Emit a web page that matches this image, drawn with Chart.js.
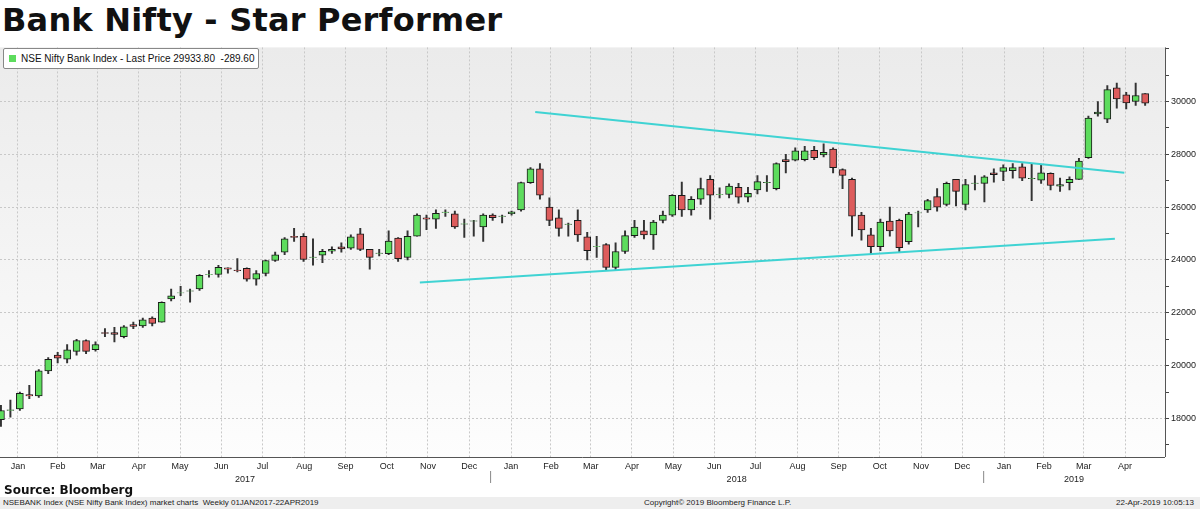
<!DOCTYPE html>
<html>
<head>
<meta charset="utf-8">
<script src="https://cdn.jsdelivr.net/npm/chart.js@4.4.0/dist/chart.umd.min.js"></script>
<style>
  body { margin: 0; width: 1200px; height: 509px; background: #fff; font-family: "Liberation Sans", Arial, sans-serif; position: relative; overflow: hidden; }
  #title { position: absolute; left: 2px; top: 1px; font: bold 32px "DejaVu Sans"; color: #111; letter-spacing: 0.2px; }
  #wrap { position: absolute; left: 0; top: 40px; width: 1200px; height: 445px; }
  #legend { position: absolute; left: 3px; top: 48px; width: 254px; height: 19px; border: 1px solid #888; border-radius: 2px; background: #fff; font-size: 10px; line-height: 19px; color: #111; }
  #legend span.sw { display: inline-block; width: 7px; height: 7px; background: #5ddc5d; margin: 0 5px 0 5px; }
  #source { position: absolute; left: 4px; top: 483px; font: bold 12px "DejaVu Sans"; color: #111; }
  #footer { position: absolute; left: 0; top: 497px; width: 1200px; height: 12px; background: #eee; font-size: 8px; line-height: 12px; color: #222; }
  #footer div { position: absolute; top: 0; }
</style>
</head>
<body>
<div id="title">Bank Nifty - Star Performer</div>
<div id="wrap"><canvas id="c"></canvas></div>
<div id="legend"><span class="sw"></span>NSE Nifty Bank Index - Last Price 29933.80&nbsp;&nbsp;-289.60</div>
<div id="source">Source: Bloomberg</div>
<div id="footer">
  <div style="left:3px">NSEBANK Index (NSE Nifty Bank Index) market charts&nbsp;&nbsp;Weekly 01JAN2017-22APR2019</div>
  <div style="left:644px">Copyright© 2019 Bloomberg Finance L.P.</div>
  <div style="left:1116px">22-Apr-2019 10:05:13</div>
</div>
<script>
// weekly OHLC, Jan 2017 - Apr 2019
const opens = [17950,18300,18360,18900,18850,19800,20400,20240,20540,20950,
  20600,21250,21250,21100,21550,21500,21800,21650,22530,22750,
  22820,22900,23450,23450,23700,23620,23680,23270,23490,23980,
  24300,24900,24900,24100,24180,24330,24500,24450,24990,24400,
  24250,24240,24830,24100,24900,25600,25550,25800,25750,25360,
  25470,25250,25700,25650,25750,25900,26930,27450,26000,25600,
  25350,25500,24880,24500,24580,23720,24320,24920,25100,24950,
  25500,25700,26450,25900,26300,27050,26480,26480,26750,26380,
  26650,26930,26700,27800,27780,27800,28150,27980,28200,27420,
  27050,25700,24950,24500,25470,25500,24690,25780,25900,26400,
  26100,27050,26100,26900,26900,27300,27350,27380,27530,27080,
  27020,27280,26800,26930,27050,27870,29530,29330,30520,30250,
  30000,30300];
const closes = [18300,18330,18950,18850,19800,20240,20280,20600,20950,20540,
  20800,21220,21180,21470,21480,21730,21600,22400,22640,22760,
  22830,23420,23460,23720,23650,23600,23270,23490,23980,24200,
  24800,24850,24020,24110,24330,24400,24420,24880,24400,24100,
  24260,24720,24050,24900,25700,25550,25770,25810,25250,25370,
  25480,25700,25600,25660,25820,26930,27450,26450,25500,25200,
  25360,24950,24350,24510,23720,24320,24920,25250,24950,25440,
  25700,26450,25900,26300,26700,26450,26490,26800,26380,26520,
  26970,26940,27650,27720,28130,28130,27870,28080,27500,27200,
  25660,25140,24500,25440,25100,24470,25740,25790,26250,26000,
  26900,26600,26860,26910,27150,27230,27500,27500,27100,27090,
  27300,26820,26860,27050,27750,29370,29600,30450,30100,29950,
  30230,29933.8];
const highs = [18500,18700,19000,19250,19850,20300,20500,20800,21000,20980,
  20900,21400,21450,21520,21650,21800,21850,22420,22900,23000,
  22900,23450,23600,23800,23700,24050,23700,23600,24000,24300,
  24850,25200,25000,24800,24400,24500,24650,24950,25200,24400,
  24400,25100,24850,25100,25750,25700,25900,25900,25850,25550,
  25500,25750,25750,25700,25850,26950,27500,27650,26350,25900,
  25400,25900,25050,24900,24620,24650,25100,25500,25500,25500,
  25850,26480,26950,26400,27100,27200,26730,26880,26900,26750,
  27200,27200,27680,28000,28250,28300,28300,28400,28250,27450,
  27100,25800,25200,25550,26000,25550,25800,25850,26300,26700,
  26950,27050,27050,27200,27200,27450,27600,27650,27650,27650,
  27600,27300,27100,27150,27850,29450,30000,30600,30700,30350,
  30700,30300];
const lows = [17700,18050,18300,18750,18800,19700,20100,20100,20400,20450,
  20550,21100,20900,21050,21400,21450,21500,21650,22450,22650,
  22400,22850,23350,23350,23500,23550,23200,23050,23400,23950,
  24200,24700,23950,23800,23900,24250,24300,24400,24350,23650,
  24150,24200,23950,24000,24900,25150,25200,25650,25200,24850,
  24900,24700,25500,25400,25700,25850,26900,26300,25300,24900,
  24900,24700,24000,24100,23600,23600,24250,24850,24800,24400,
  25400,25650,25650,25700,26100,25550,26350,26350,26150,26200,
  26500,26600,26650,27300,27750,27750,27800,27900,27300,26700,
  24900,24750,24200,24350,24900,24300,24600,25250,25800,25850,
  26050,26050,25900,26650,26200,26950,27000,27100,27000,26250,
  26900,26650,26600,26650,27050,27850,29450,29200,29750,29720,
  29850,29850];
// trend lines drawn on the chart [weekIndex, price]
const upperLine = [[56.5, 29600], [118.8, 27300]];
const lowerLine = [[44.3, 23150], [117.8, 24800]];
const monthNames = ['Jan','Feb','Mar','Apr','May','Jun','Jul','Aug','Sep','Oct','Nov','Dec'];
const yearLabels = ['2017','2018','2019'];
const yTicks = [18000,20000,22000,24000,26000,28000,30000];

const firstWeek = new Date(2017, 0, 6);
const dayMs = 86400000;
function weekIdx(y, m) { return (new Date(y, m, 1) - firstWeek) / dayMs / 7 + 0.3; }
const monthBounds = [];
for (let y = 2017; y <= 2019; y++) {
  for (let m = 0; m < 12; m++) {
    if (y === 2019 && m > 4) break;
    monthBounds.push({ y: y, m: m, v: weekIdx(y, m) });
  }
}

const green = '#5ddc5d', red = '#dd5c5c';
const bodyColors = opens.map((o, i) => closes[i] >= o ? green : red);

const bgPlugin = {
  id: 'bg',
  beforeDraw(chart) {
    const { ctx, chartArea: a } = chart;
    const g = ctx.createLinearGradient(0, a.top, 0, a.bottom);
    g.addColorStop(0, '#ebebeb');
    g.addColorStop(1, '#fdfdfd');
    ctx.save();
    ctx.fillStyle = g;
    ctx.fillRect(a.left, a.top, a.right - a.left, a.bottom - a.top);
    ctx.restore();
  },
  afterDraw(chart) {
    const { ctx, chartArea: a, scales } = chart;
    const x = scales.x;
    ctx.save();
    ctx.strokeStyle = '#555';
    ctx.lineWidth = 1;
    ctx.beginPath();
    ctx.moveTo(a.left, a.bottom + 0.5); ctx.lineTo(a.right, a.bottom + 0.5);
    ctx.moveTo(a.right + 0.5, a.top); ctx.lineTo(a.right + 0.5, a.bottom);
    ctx.stroke();
    ctx.font = '9px "Liberation Sans"';
    ctx.fillStyle = '#222';
    ctx.textAlign = 'center';
    for (let i = 0; i < monthBounds.length - 1; i++) {
      const mid = (monthBounds[i].v + monthBounds[i + 1].v) / 2;
      const px = x.getPixelForValue(mid);
      if (px > a.left && px < a.right) ctx.fillText(monthNames[monthBounds[i].m], px, a.bottom + 12);
    }
    // year labels and separators
    ctx.strokeStyle = '#888';
    yearLabels.forEach((yr, k) => {
      const y = 2017 + k;
      const start = Math.max(x.getPixelForValue(weekIdx(y, 0)), a.left);
      const end = Math.min(x.getPixelForValue(weekIdx(y + 1, 0)), a.right);
      ctx.fillText(yr, (start + end) / 2, a.bottom + 25);
      if (k > 0) {
        ctx.beginPath();
        ctx.moveTo(start + 0.5, a.bottom + 14); ctx.lineTo(start + 0.5, a.bottom + 26);
        ctx.stroke();
      }
    });
    ctx.restore();
  }
};

new Chart(document.getElementById('c'), {
  data: {
    datasets: [
      {
        type: 'line',
        data: upperLine.map(p => ({ x: p[0], y: p[1] })),
        borderColor: '#3fd3d3', borderWidth: 2, pointRadius: 0
      },
      {
        type: 'line',
        data: lowerLine.map(p => ({ x: p[0], y: p[1] })),
        borderColor: '#3fd3d3', borderWidth: 2, pointRadius: 0
      },
      {
        type: 'bar',
        data: opens.map((o, i) => ({ x: i, y: [o, closes[i]] })),
        backgroundColor: bodyColors,
        borderColor: '#1a1a1a', borderWidth: 1, borderSkipped: false,
        barThickness: 7, grouped: false
      },
      {
        type: 'bar',
        data: highs.map((h, i) => ({ x: i, y: [lows[i], h] })),
        backgroundColor: '#333', borderWidth: 0,
        barThickness: 1.3, grouped: false
      }
    ]
  },
  options: {
    responsive: true, maintainAspectRatio: false, animation: false,
    layout: { padding: { top: 2, bottom: 28, left: 0, right: 0 } },
    plugins: { legend: { display: false }, tooltip: { enabled: false } },
    scales: {
      x: {
        type: 'linear', min: -0.1, max: 123.1, offset: false,
        afterBuildTicks(s) { s.ticks = monthBounds.map(b => ({ value: b.v })); },
        ticks: { display: false },
        grid: { color: '#c8c8c8', tickLength: 0, drawTicks: false },
        border: { display: false, dash: [2, 2] }
      },
      y: {
        position: 'right', min: 16540, max: 32050,
        afterBuildTicks(s) {
          const t = [];
          for (let v = 17000; v <= 32000; v += 1000) t.push({ value: v });
          s.ticks = t;
        },
        afterFit(s) { s.width = 35; },
        ticks: {
          font: { size: 9, family: 'Liberation Sans' }, color: '#222', padding: 2,
          callback: v => yTicks.includes(v) ? v : ''
        },
        grid: {
          color: c => yTicks.includes(c.tick && c.tick.value) ? '#c8c8c8' : 'rgba(0,0,0,0)',
          tickColor: '#444', tickLength: 4
        },
        border: { display: false, dash: [2, 2] }
      }
    }
  },
  plugins: [bgPlugin]
});
</script>
</body>
</html>
